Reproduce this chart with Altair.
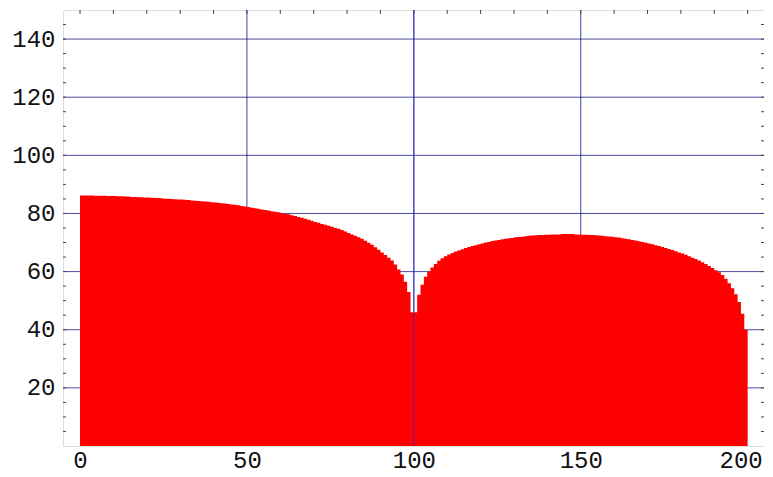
import altair as alt
import pandas as pd

# Bar heights (bar i spans [i, i+1])
left_heights = [
    86.2, 86.2, 86.2, 86.2, 86.1, 86.1, 86.1, 86.1, 86.0, 86.0,
    86.0, 85.9, 85.9, 85.8, 85.8, 85.7, 85.7, 85.6, 85.6, 85.5,
    85.5, 85.4, 85.3, 85.3, 85.2, 85.1, 85.1, 85.0, 84.9, 84.8,
    84.8, 84.7, 84.6, 84.5, 84.4, 84.3, 84.2, 84.1, 84.0, 83.9,
    83.8, 83.7, 83.5, 83.4, 83.3, 83.1, 83.0, 82.8, 82.6, 82.4,
    82.2, 82.0, 81.8, 81.6, 81.4, 81.2, 81.0, 80.8, 80.6, 80.4,
    80.2, 79.9, 79.7, 79.4, 79.1, 78.8, 78.5, 78.2, 77.8, 77.5,
    77.1, 76.8, 76.4, 76.1, 75.8, 75.4, 75.0, 74.7, 74.3, 73.8,
    73.3, 72.8, 72.3, 71.8, 71.3, 70.6, 69.9, 69.2, 68.4, 67.5,
    66.6, 65.7, 64.8, 63.8, 62.4, 60.7, 59.0, 56.5, 53.0, 46.0,
]
right_heights = [
    46.0, 52.0, 55.5, 58.2, 60.0, 61.4, 62.6, 63.7, 64.6, 65.3,
    65.9, 66.4, 66.9, 67.3, 67.7, 68.1, 68.5, 68.8, 69.1, 69.4,
    69.7, 70.0, 70.2, 70.5, 70.7, 70.9, 71.1, 71.3, 71.5, 71.6,
    71.8, 71.9, 72.0, 72.2, 72.3, 72.4, 72.5, 72.6, 72.6, 72.7,
    72.7, 72.8, 72.8, 72.8, 72.9, 72.9, 72.9, 72.9, 72.8, 72.8,
    72.7, 72.7, 72.6, 72.6, 72.5, 72.4, 72.3, 72.2, 72.1, 72.0,
    71.8, 71.7, 71.5, 71.3, 71.1, 70.9, 70.7, 70.4, 70.2, 69.9,
    69.7, 69.4, 69.1, 68.8, 68.5, 68.1, 67.8, 67.4, 67.0, 66.6,
    66.2, 65.8, 65.3, 64.8, 64.3, 63.8, 63.2, 62.6, 61.9, 61.2,
    60.5, 59.8, 58.8, 57.5, 56.0, 54.3, 52.2, 49.5, 45.5, 40.0,
]
heights = left_heights + right_heights
bar_start = list(range(len(heights)))

x_labels = [0, 50, 100, 150, 200]
x_grid = [50, 100, 150]
y_labels = [20, 40, 60, 80, 100, 120, 140]
x_minor = list(range(0, 201, 10))
y_minor = list(range(5, 150, 5))

W, H = 701, 436
FONT = "Liberation Mono"
GRID = "#000080"
TICK = "#444444"

# step outline: each bar holds its height until the next bar starts;
# the last bar is closed at its right end
step_x = bar_start + [bar_start[-1] + 1]
step_v = heights + [heights[-1]]
bars_df = pd.DataFrame({"x": step_x, "v": step_v})

xs = alt.Scale(domain=[-5.1, 204.9], nice=False, zero=False)
ys = alt.Scale(domain=[0, 150], nice=False)

bars = alt.Chart(bars_df).mark_area(
    interpolate="step-after", color="#ff0000", opacity=1
).encode(
    x=alt.X("x:Q", scale=xs, title=None,
            axis=alt.Axis(values=x_labels, grid=False, domain=False, ticks=False,
                          labelFont=FONT, labelFontSize=24, labelColor="#111111",
                          labelPadding=2, labelFlush=False,
                          labelOffset=alt.expr("datum.value == 200 ? -7 : 0"))),
    y=alt.Y("v:Q", scale=ys, title=None,
            axis=alt.Axis(values=y_labels, grid=False, domain=False, ticks=False,
                          labelFont=FONT, labelFontSize=24, labelColor="#111111",
                          labelPadding=8)),
)

hgrid = alt.Chart(pd.DataFrame({"y": y_labels})).mark_rule(
    color=GRID, strokeWidth=1, opacity=0.7
).encode(y=alt.Y("y:Q", scale=ys), x=alt.value(0), x2=alt.value(W))

vgrid = alt.Chart(pd.DataFrame({"x": x_grid})).mark_rule(
    color=GRID, strokeWidth=1, opacity=0.75
).encode(x=alt.X("x:Q", scale=xs), y=alt.value(0), y2=alt.value(H))

# the vertical line at x=100 shows through the bars in the reference
seam = alt.Chart(pd.DataFrame({"x": [x_grid[1]]})).mark_rule(
    color="#2a2ad0", strokeWidth=1, opacity=0.8
).encode(x=alt.X("x:Q", scale=xs), y=alt.value(0), y2=alt.value(H))

top_ticks = alt.Chart(pd.DataFrame({"t": x_minor})).mark_rule(
    color=TICK, strokeWidth=1
).encode(x=alt.X("t:Q", scale=xs), y=alt.value(0), y2=alt.value(4))

left_ticks = alt.Chart(pd.DataFrame({"t": y_minor})).mark_rule(
    color=TICK, strokeWidth=1
).encode(y=alt.Y("t:Q", scale=ys), x=alt.value(0), x2=alt.value(3))

right_ticks = alt.Chart(pd.DataFrame({"t": y_minor})).mark_rule(
    color=TICK, strokeWidth=1
).encode(y=alt.Y("t:Q", scale=ys), x=alt.value(W - 3), x2=alt.value(W))

chart = alt.layer(
    hgrid, vgrid, top_ticks, left_ticks, right_ticks, bars, seam
).properties(
    width=W, height=H,
    autosize=alt.AutoSizeParams(type="none"),
    padding={"left": 55, "top": 2, "right": 0, "bottom": 30},
).configure_view(
    stroke="#333333", strokeWidth=1.2
).configure(background="white")

chart.save("out.html", embed_options={"renderer": "svg", "actions": False})
